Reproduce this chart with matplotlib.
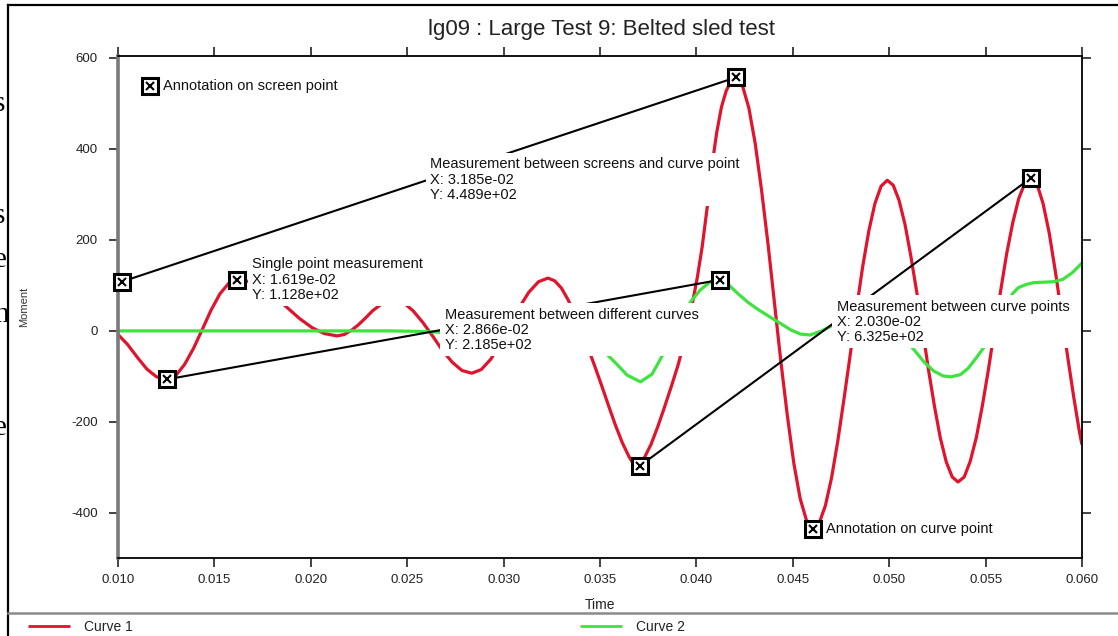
import matplotlib
matplotlib.use("Agg")
import matplotlib.pyplot as plt
from matplotlib.lines import Line2D

plt.rcParams['font.family'] = ['Liberation Sans', 'DejaVu Sans']

# ---------------- data ----------------
TITLE = "lg09 : Large Test 9: Belted sled test"
X_LABEL = "Time"
Y_LABEL = "Moment"
X_TICKS = [0.010, 0.015, 0.020, 0.025, 0.030, 0.035, 0.040, 0.045, 0.050, 0.055, 0.060]
X_TICK_LABELS = ["0.010", "0.015", "0.020", "0.025", "0.030", "0.035",
                 "0.040", "0.045", "0.050", "0.055", "0.060"]
Y_TICKS = [-400, -200, 0, 200, 400, 600]
Y_TICK_LABELS = ["-400", "-200", "0", "200", "400", "600"]
SERIES_NAMES = ["Curve 1", "Curve 2"]

curve1_time = [
    0.01000, 0.01050, 0.01100, 0.01150, 0.01200, 0.01254, 0.01300, 0.01345, 0.01391,
    0.01437, 0.01482, 0.01528, 0.01573, 0.01619, 0.01684, 0.01748, 0.01813, 0.01878,
    0.01942, 0.02007, 0.02071, 0.02136, 0.02173, 0.02210, 0.02246, 0.02283, 0.02320,
    0.02357, 0.02393, 0.02430, 0.02481, 0.02531, 0.02582, 0.02633, 0.02683, 0.02734,
    0.02784, 0.02835, 0.02884, 0.02934, 0.02983, 0.03033, 0.03082, 0.03131, 0.03181,
    0.03230, 0.03265, 0.03300, 0.03335, 0.03370, 0.03405, 0.03440, 0.03475, 0.03510,
    0.03545, 0.03580, 0.03615, 0.03650, 0.03670, 0.03690, 0.03710, 0.03730, 0.03765,
    0.03800, 0.03835, 0.03870, 0.03905, 0.03930, 0.03955, 0.03980, 0.04005, 0.04030,
    0.04055, 0.04080, 0.04105, 0.04130, 0.04155, 0.04180, 0.04205, 0.04238, 0.04272,
    0.04305, 0.04338, 0.04372, 0.04405, 0.04438, 0.04472, 0.04505, 0.04538, 0.04572,
    0.04605, 0.04637, 0.04669, 0.04701, 0.04733, 0.04765, 0.04798, 0.04830, 0.04862,
    0.04894, 0.04926, 0.04958, 0.04990, 0.05021, 0.05051, 0.05082, 0.05112, 0.05143,
    0.05174, 0.05204, 0.05235, 0.05265, 0.05296, 0.05327, 0.05357, 0.05389, 0.05420,
    0.05452, 0.05483, 0.05515, 0.05546, 0.05578, 0.05609, 0.05641, 0.05672, 0.05704,
    0.05735, 0.05767, 0.05798, 0.05830, 0.05862, 0.05893, 0.05925, 0.05957, 0.05988,
    0.06000,
]
curve1_moment = [
    -8, -30, -58, -84, -101, -106.5, -98, -74, -39,
    3, 45, 81, 104, 112.8, 108, 95, 75, 51,
    27, 7, -6, -11, -8, 1, 13, 28, 44,
    56, 65, 68, 62, 44, 18, -12, -43, -69,
    -87, -93, -85, -62, -28, 12, 52, 85, 108,
    116, 110, 94, 68, 35, -2, -40, -80, -122,
    -165, -207, -245, -276, -290, -296.5, -291, -279, -249,
    -210, -167, -122, -75, -35, 10, 62, 118, 185,
    268, 360, 435, 492, 528, 549, 557, 540, 490,
    412, 309, 189, 61, -67, -187, -290, -368, -418,
    -435, -422, -384, -323, -243, -151, -52, 47, 140,
    219, 280, 318, 331, 320, 287, 234, 165, 85,
    0, -86, -166, -235, -288, -321, -332, -321, -287,
    -234, -165, -84, 2, 88, 169, 238, 291, 325,
    336, 322, 280, 215, 130, 40, -55, -145, -225,
    -250,
]

curve2_time = [
    0.0100, 0.0150, 0.0200, 0.0240, 0.0255, 0.0267, 0.0280, 0.0300, 0.0320, 0.0335,
    0.0345, 0.0352, 0.0358, 0.0364, 0.0371, 0.0377, 0.0382, 0.0387, 0.0392, 0.0397,
    0.0402, 0.0407, 0.0412, 0.0417, 0.0422, 0.0427, 0.0432, 0.0438, 0.0443, 0.0449,
    0.0454, 0.0459, 0.0465, 0.0471, 0.0478, 0.0486, 0.0494, 0.0502, 0.0507, 0.0513,
    0.0518, 0.0523, 0.0528, 0.0532, 0.0537, 0.0541, 0.0545, 0.0549, 0.0553, 0.0557,
    0.0561, 0.0564, 0.0567, 0.0571, 0.0575, 0.0580, 0.0585, 0.0590, 0.0595, 0.0600,
]
curve2_moment = [
    0, 0, 0, 0, -1, -3, -5, -3, -1, -6,
    -25, -45, -70, -97, -112, -95, -57, -15, 25, 64,
    90, 107, 112, 100, 80, 62, 47, 31, 18, 2,
    -7, -9, 0, 13, 25, 28, 20, 8, -12, -42,
    -68, -88, -99, -101, -96, -82, -60, -37, -8, 25,
    60, 82, 95, 102, 106, 107, 108, 113, 128, 149,
]

# measurements between two points (start -> end)
meas_start_x = [0.01020, 0.01254, 0.03707]
meas_start_y = [108.1, -106.5, -296.5]
meas_end_x = [0.04205, 0.04120, 0.05735]
meas_end_y = [557.0, 112.0, 336.0]
meas_labels = [
    "Measurement between screens and curve point\nX: 3.185e-02\nY: 4.489e+02",
    "Measurement between different curves\nX: 2.866e-02\nY: 2.185e+02",
    "Measurement between curve points\nX: 2.030e-02\nY: 6.325e+02",
]

# single point measurement
single_x = [0.01619]
single_y = [112.8]
single_labels = ["Single point measurement\nX: 1.619e-02\nY: 1.128e+02"]

# plain annotations
annot_x = [0.01166, 0.04605]
annot_y = [538.0, -435.0]
annot_labels = ["Annotation on screen point", "Annotation on curve point"]

# stray glyphs of the page behind the screenshot (left edge)
stray_chars = ["s", "s", "e", "n", "e"]

# ---------------- figure ----------------
W, H = 1118, 636
fig = plt.figure(figsize=(W / 100, H / 100), dpi=100)
fig.patch.set_facecolor("white")

L, R, T, B = 118, 1082, 56, 558
ax = fig.add_axes([L / W, 1 - B / H, (R - L) / W, (B - T) / H])
ax.set_facecolor("white")

RED = "#e0142c"
GREEN = "#3fe33f"

l1, = ax.plot(curve1_time, curve1_moment, color=RED, lw=2.3, zorder=2,
              solid_capstyle="butt", label=SERIES_NAMES[0])
l2, = ax.plot(curve2_time, curve2_moment, color=GREEN, lw=2.3, zorder=2,
              solid_capstyle="butt", label=SERIES_NAMES[1])

ax.set_xlim(0.010, 0.060)
ax.set_ylim(-499, 604)

ax.set_xticks(X_TICKS)
ax.set_xticklabels(X_TICK_LABELS)
ax.set_yticks(Y_TICKS)
ax.set_yticklabels(Y_TICK_LABELS)
ax.tick_params(axis="both", direction="out", length=6.5, width=1.2,
               labelsize=9.5, colors="#222222", top=True, right=True,
               labeltop=False, labelright=False)
ax.tick_params(axis="y", pad=8)
ax.tick_params(axis="x", pad=5)

for side in ["top", "right", "bottom"]:
    ax.spines[side].set_color("black")
    ax.spines[side].set_linewidth(1.3)
ax.spines["left"].set_color("#7a7a7a")
ax.spines["left"].set_linewidth(2.6)

ax.set_xlabel(X_LABEL, fontsize=10, color="#222222")
ax.xaxis.set_label_coords(0.5, (B - 598) / (B - T))
ax.set_ylabel(Y_LABEL, fontsize=8, color="#333333")
ax.yaxis.set_label_coords((29 - L) / (R - L), 0.5)

fig.text(601 / W, 1 - 30 / H, TITLE, ha="center", va="center",
         fontsize=16, color="#222222")

TXT = dict(fontsize=10.5, color="#111111", linespacing=1.1)
BOX = dict(boxstyle="square,pad=0.3", fc="white", ec="none")


def draw_marker(x, y):
    ax.plot([x], [y], marker="s", ms=11, mfc="white", mec="black", mew=2.2,
            zorder=6, clip_on=False)
    ax.plot([x], [y], marker="x", ms=6, mec="black", mew=1.5, zorder=7,
            clip_on=False)


# measurement lines + labels
for x0, y0, x1, y1, lab in zip(meas_start_x, meas_start_y, meas_end_x,
                                meas_end_y, meas_labels):
    ax.plot([x0, x1], [y0, y1], color="black", lw=1.5, zorder=3)
    mx, my = (x0 + x1) / 2, (y0 + y1) / 2
    ax.annotate(lab, xy=(mx, my), xytext=(1, 0), textcoords="offset points",
                ha="left", va="center", bbox=BOX, zorder=4, **TXT)
    draw_marker(x0, y0)
    draw_marker(x1, y1)

for x, y, lab in zip(single_x, single_y, single_labels):
    ax.annotate(lab, xy=(x, y), xytext=(10.5, 0), textcoords="offset points",
                ha="left", va="center", bbox=BOX, zorder=4, **TXT)
    draw_marker(x, y)

for x, y, lab in zip(annot_x, annot_y, annot_labels):
    ax.annotate(lab, xy=(x, y), xytext=(9.5, 0), textcoords="offset points",
                ha="left", va="center", zorder=4, **TXT)
    draw_marker(x, y)

# outer frame of the chart window
fig.add_artist(Line2D([7.5 / W, 7.5 / W], [0, 1 - 5 / H], color="black", lw=1.6))
fig.add_artist(Line2D([7.5 / W, 1], [1 - 5 / H, 1 - 5 / H], color="black", lw=1.6))
# separator above legend strip
fig.add_artist(Line2D([8 / W, 1], [1 - 613 / H, 1 - 613 / H], color="#8a8a8a", lw=1.8))

leg1 = fig.legend(handles=[l1], labels=[SERIES_NAMES[0]], loc="center left",
                  bbox_to_anchor=(28 / W, 1 - 627 / H), frameon=False,
                  fontsize=10, handlelength=3.0, handletextpad=1.0,
                  borderpad=0, borderaxespad=0)
leg2 = fig.legend(handles=[l2], labels=[SERIES_NAMES[1]], loc="center left",
                  bbox_to_anchor=(580 / W, 1 - 627 / H), frameon=False,
                  fontsize=10, handlelength=3.0, handletextpad=1.0,
                  borderpad=0, borderaxespad=0)
for lg in (leg1, leg2):
    for t in lg.get_texts():
        t.set_color("#222222")
    for h in lg.legend_handles:
        h.set_linewidth(2.0)

# stray serif glyphs at the left edge
for ch, yb in zip(stray_chars, [111, 223, 267, 322, 435]):
    fig.text(-6 / W, 1 - yb / H, ch, ha="left", va="baseline",
             fontsize=21, family=["Liberation Serif", "DejaVu Serif"], color="black")

fig.savefig("out.png", dpi=100, facecolor="white")
